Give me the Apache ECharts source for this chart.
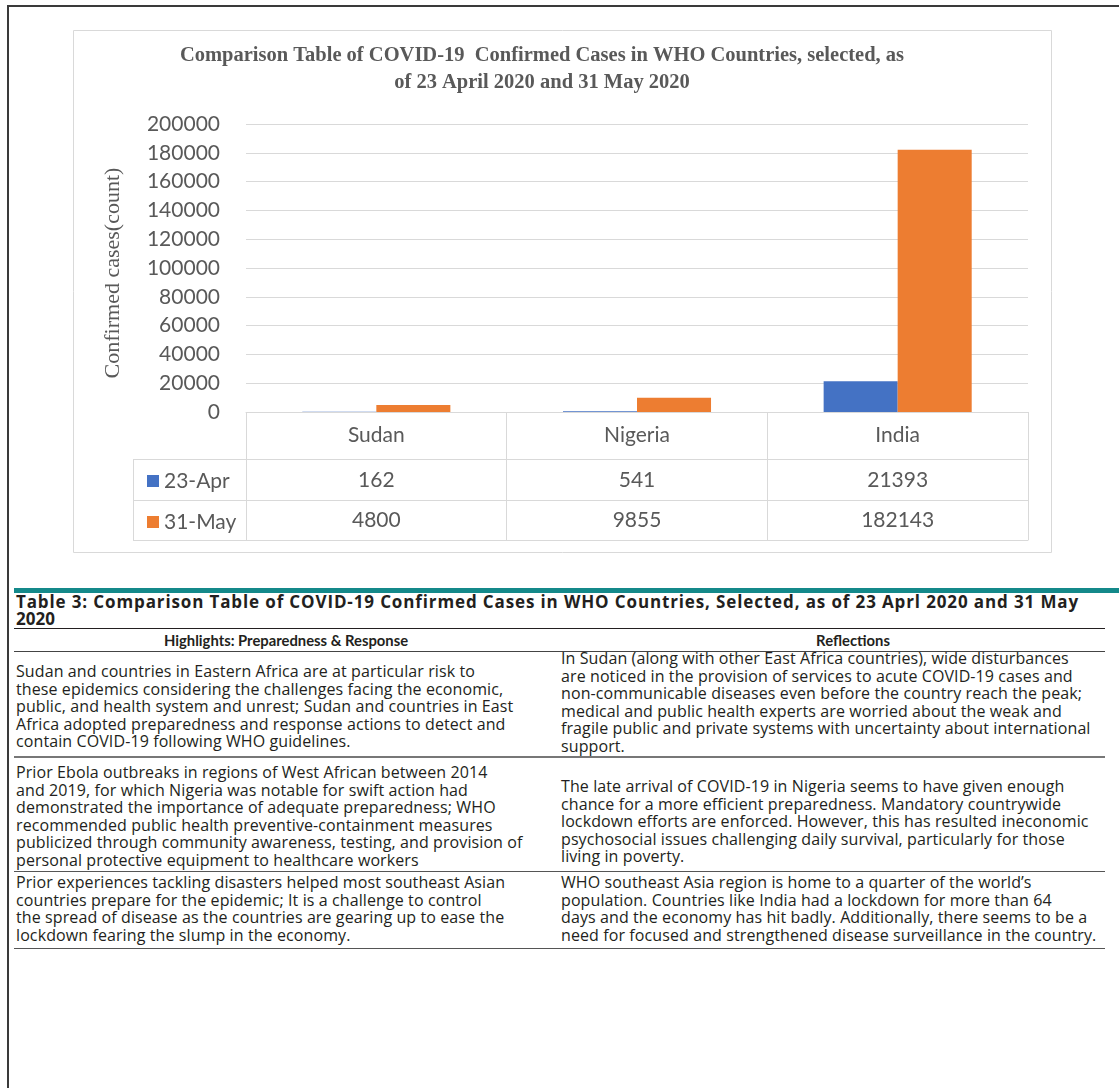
<!DOCTYPE html>
<html><head><meta charset="utf-8">
<script src="https://cdn.jsdelivr.net/npm/echarts@6/dist/echarts.min.js"></script>
<style>
html,body{margin:0;padding:0;background:#fff;width:1119px;height:1088px;overflow:hidden;position:relative;}
#frame{position:absolute;left:7px;top:5px;width:1112px;height:1083px;border-top:2px solid #3a3a3a;border-left:2px solid #3a3a3a;box-sizing:border-box;z-index:5;pointer-events:none;}
#chart{position:absolute;left:0;top:0;width:1119px;height:570px;}
#teal{position:absolute;left:14px;top:588px;width:1105px;height:5px;background:#14898a;}
.cap{position:absolute;left:16px;top:594px;width:1100px;font-family:"Open Sans",sans-serif;font-weight:bold;font-size:17px;line-height:16.5px;color:#231f20;white-space:nowrap;}
.hl{position:absolute;left:14px;width:1091px;}
.txt{position:absolute;font-family:"Open Sans",sans-serif;font-size:16px;letter-spacing:0.1px;line-height:17.5px;color:#231f20;white-space:nowrap;}
.hdr{position:absolute;font-family:Lato,sans-serif;font-weight:bold;font-size:14.8px;line-height:18px;color:#231f20;white-space:nowrap;transform:translateX(-50%);}
</style>
</head><body>
<div id="frame"></div>
<div id="chart"></div>
<div id="teal"></div>
<div class="cap"><span id="cap1">Table 3: Comparison Table of COVID-19 Confirmed Cases in WHO Countries, Selected, as of 23 Aprl 2020 and 31 May</span><br>2020</div>
<div class="hl" style="top:628px;border-top:1px solid #231f20;"></div>
<div class="hdr" style="left:286px;top:631px;">Highlights: Preparedness &amp; Response</div>
<div class="hdr" style="left:853px;top:631px;">Reflections</div>
<div class="hl" style="top:651px;border-top:1.5px solid #444;"></div>
<div class="txt" style="left:16px;top:663px;">Sudan and countries in Eastern Africa are at particular risk to<br>these epidemics considering the challenges facing the economic,<br>public, and health system and unrest; Sudan and countries in East<br>Africa adopted preparedness and response actions to detect and<br>contain COVID-19 following WHO guidelines.</div>
<div class="txt" style="left:561px;top:650px;">In Sudan (along with other East Africa countries), wide disturbances<br>are noticed in the provision of services to acute COVID-19 cases and<br>non-communicable diseases even before the country reach the peak;<br>medical and public health experts are worried about the weak and<br>fragile public and private systems with uncertainty about international<br>support.</div>
<div class="hl" style="top:756px;border-top:2px solid #777;"></div>
<div class="txt" style="left:16px;top:764px;">Prior Ebola outbreaks in regions of West African between 2014<br>and 2019, for which Nigeria was notable for swift action had<br>demonstrated the importance of adequate preparedness; WHO<br>recommended public health preventive-containment measures<br>publicized through community awareness, testing, and provision of<br>personal protective equipment to healthcare workers</div>
<div class="txt" style="left:561px;top:778px;">The late arrival of COVID-19 in Nigeria seems to have given enough<br>chance for a more efficient preparedness. Mandatory countrywide<br>lockdown efforts are enforced. However, this has resulted ineconomic<br>psychosocial issues challenging daily survival, particularly for those<br>living in poverty.</div>
<div class="hl" style="top:871px;border-top:1.5px solid #555;"></div>
<div class="txt" style="left:16px;top:874px;">Prior experiences tackling disasters helped most southeast Asian<br>countries prepare for the epidemic; It is a challenge to control<br>the spread of disease as the countries are gearing up to ease the<br>lockdown fearing the slump in the economy.</div>
<div class="txt" style="left:561px;top:874px;">WHO southeast Asia region is home to a quarter of the world’s<br>population. Countries like India had a lockdown for more than 64<br>days and the economy has hit badly. Additionally, there seems to be a<br>need for focused and strengthened disease surveillance in the country.</div>
<div class="hl" style="top:948px;border-top:1.5px solid #555;"></div>
<script>
// ---- data ----
const categories = ['Sudan', 'Nigeria', 'India'];
const seriesNames = ['23-Apr', '31-May'];
const apr23 = [162, 541, 21393];
const may31 = [4800, 9855, 182143];
const yMin = 0, yMax = 200000, yStep = 20000;
const chartTitle = 'Comparison Table of COVID-19  Confirmed Cases in WHO Countries, selected, as\nof 23 April 2020 and 31 May 2020';
const yName = 'Confirmed cases(count)';

// fit caption first line to the reference width
(function () {
  const el = document.getElementById('cap1');
  const target = 1063;
  const w = el.getBoundingClientRect().width;
  const n = el.textContent.length;
  el.style.letterSpacing = ((target - w) / n) + 'px';
})();

// ---- layout ----
const G = {left: 246, top: 124, right: 1028, bottom: 412};
const rowH = [47, 41, 40];
const legendColLeft = 133;
const gridCol = '#d9d9d9', txtCol = '#595959';
const sans = 'Lato', serif = 'Liberation Serif';

const chart = echarts.init(document.getElementById('chart'), null, {renderer: 'canvas'});

function tableAxis(offset, tickLen, labels, margin) {
  return {
    type: 'category', data: categories, gridIndex: 0, position: 'bottom', offset: offset,
    axisLine: {show: true, lineStyle: {color: gridCol, width: 1}},
    axisTick: {show: !!tickLen, length: tickLen || 0, interval: 0, alignWithLabel: false, lineStyle: {color: gridCol}},
    axisLabel: labels ? {show: true, interval: 0, margin: margin, verticalAlign: 'middle', color: txtCol, fontSize: 21, fontFamily: sans,
      formatter: (v, i) => String(labels[i])} : {show: false},
    splitLine: {show: false}
  };
}

const r1 = rowH[0], r2 = rowH[0] + rowH[1], r3 = rowH[0] + rowH[1] + rowH[2];

const option = {
  animation: false,
  backgroundColor: 'transparent',
  grid: {left: G.left, top: G.top, width: G.right - G.left, height: G.bottom - G.top, containLabel: false},
  legend: {
    data: seriesNames, orient: 'vertical', left: 142, top: G.bottom + r1 + rowH[1] / 2 - 14,
    icon: 'rect', itemWidth: 12, itemHeight: 12, itemGap: 20,
    textStyle: {color: txtCol, fontSize: 21, fontFamily: sans, lineHeight: 21}
  },
  xAxis: [
    tableAxis(0, r1, categories, rowH[0] / 2),
    tableAxis(r1, rowH[1], apr23, rowH[1] / 2 + 1),
    tableAxis(r2, rowH[2], may31, rowH[2] / 2 + 0.5),
    tableAxis(r3, 0, null, 0)
  ],
  yAxis: {
    type: 'value', min: yMin, max: yMax, interval: yStep,
    name: yName, nameLocation: 'middle', nameGap: 122, nameRotate: 90,
    nameTextStyle: {color: txtCol, fontSize: 22, fontFamily: serif, padding: [0, 10, 0, 0]},
    axisLine: {show: false}, axisTick: {show: false},
    axisLabel: {color: txtCol, fontSize: 21, fontFamily: sans, margin: 26, formatter: v => String(v)},
    splitLine: {show: true, lineStyle: {color: gridCol, width: 1}}
  },
  series: [
    {name: seriesNames[0], type: 'bar', data: apr23, xAxisIndex: 0, barWidth: '28.4%', barGap: '0%', itemStyle: {color: '#4472C4'}},
    {name: seriesNames[1], type: 'bar', data: may31, xAxisIndex: 0, barWidth: '28.4%', barGap: '0%', itemStyle: {color: '#ED7D31'}}
  ],
  graphic: [
    {type: 'rect', shape: {x: 73.5, y: 30.5, width: 978, height: 522}, style: {fill: null, stroke: gridCol, lineWidth: 1}, silent: true},
    {type: 'text', x: 542, y: 42, style: {text: chartTitle, textAlign: 'center', textVerticalAlign: 'top', fill: txtCol,
      font: 'bold 20.5px "Liberation Serif"', lineHeight: 27}},
    {type: 'line', shape: {x1: legendColLeft + 0.5, y1: G.bottom + r1, x2: legendColLeft + 0.5, y2: G.bottom + r3}, style: {stroke: gridCol, lineWidth: 1}},
    {type: 'line', shape: {x1: legendColLeft, y1: G.bottom + r1 + 0.5, x2: G.left, y2: G.bottom + r1 + 0.5}, style: {stroke: gridCol, lineWidth: 1}},
    {type: 'line', shape: {x1: legendColLeft, y1: G.bottom + r2 + 0.5, x2: G.left, y2: G.bottom + r2 + 0.5}, style: {stroke: gridCol, lineWidth: 1}},
    {type: 'line', shape: {x1: legendColLeft, y1: G.bottom + r3 + 0.5, x2: G.left, y2: G.bottom + r3 + 0.5}, style: {stroke: gridCol, lineWidth: 1}}
  ]
};
chart.setOption(option);
</script>
</body></html>
